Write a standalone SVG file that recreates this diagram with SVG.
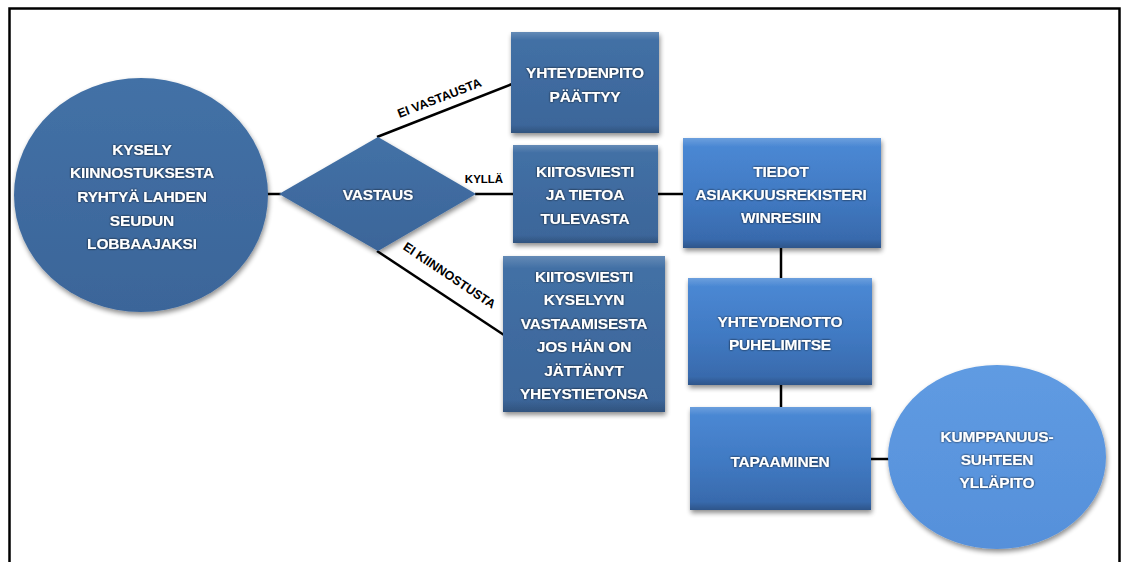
<svg xmlns="http://www.w3.org/2000/svg" width="1123" height="562" viewBox="0 0 1123 562">
  <defs>
    <linearGradient id="gDark" x1="0" y1="0" x2="0" y2="1">
      <stop offset="0" stop-color="#4371A6"/>
      <stop offset="1" stop-color="#3B6599"/>
    </linearGradient>
    <linearGradient id="gBright" x1="0" y1="0" x2="0" y2="1">
      <stop offset="0" stop-color="#4C8AD6"/>
      <stop offset="0.55" stop-color="#4079C2"/>
      <stop offset="1" stop-color="#3767A8"/>
    </linearGradient>
    <linearGradient id="gLight" x1="0" y1="0" x2="0" y2="1">
      <stop offset="0" stop-color="#5F9BE2"/>
      <stop offset="1" stop-color="#5690DA"/>
    </linearGradient>
    <linearGradient id="bevel" x1="0" y1="0" x2="0" y2="1">
      <stop offset="0" stop-color="#ffffff" stop-opacity="0.18"/>
      <stop offset="0.08" stop-color="#ffffff" stop-opacity="0"/>
      <stop offset="0.92" stop-color="#000000" stop-opacity="0"/>
      <stop offset="1" stop-color="#000000" stop-opacity="0.18"/>
    </linearGradient>
    <filter id="shadow" x="-10%" y="-10%" width="125%" height="130%">
      <feGaussianBlur in="SourceAlpha" stdDeviation="2.5"/>
      <feOffset dx="1" dy="3" result="b"/>
      <feComponentTransfer><feFuncA type="linear" slope="0.45"/></feComponentTransfer>
      <feMerge><feMergeNode/><feMergeNode in="SourceGraphic"/></feMerge>
    </filter>
    <filter id="glow" x="-10%" y="-30%" width="120%" height="160%">
      <feGaussianBlur in="SourceAlpha" stdDeviation="0.8"/>
      <feComponentTransfer><feFuncA type="linear" slope="0.9"/></feComponentTransfer>
      <feMerge><feMergeNode/><feMergeNode in="SourceGraphic"/></feMerge>
    </filter>
  </defs>
  <style>
    .lbl { font-family: "Liberation Sans", Arial, sans-serif; font-weight: bold; font-size: 15.5px; letter-spacing: -0.2px; fill: #ffffff; text-anchor: middle; filter: url(#glow); }
    .edge { font-family: "Liberation Sans", Arial, sans-serif; font-weight: bold; font-size: 12.5px; fill: #000000; text-anchor: middle; }
    .conn { stroke: #000000; stroke-width: 2.5; fill: none; }
    .dark { fill: url(#gDark); filter: url(#shadow); }
    .bright { fill: url(#gBright); filter: url(#shadow); }
    .light { fill: url(#gLight); filter: url(#shadow); }
    .bev { fill: url(#bevel); }
  </style>

  <!-- outer frame -->
  <rect x="9.5" y="8.5" width="1110" height="570" fill="#ffffff" stroke="#000000" stroke-width="2.5"/>

  <!-- connectors -->
  <g id="connectors">
    <line class="conn" x1="266" y1="194" x2="281" y2="194"/>
    <line class="conn" x1="377" y1="137" x2="512" y2="84"/>
    <line class="conn" x1="475" y1="194" x2="514" y2="194"/>
    <line class="conn" x1="377" y1="251" x2="504" y2="335"/>
    <line class="conn" x1="657" y1="194" x2="684" y2="194"/>
    <line class="conn" x1="781" y1="247" x2="781" y2="279"/>
    <line class="conn" x1="781" y1="384" x2="781" y2="408"/>
    <line class="conn" x1="870" y1="459" x2="890" y2="459"/>
    <text class="edge" transform="translate(441,102) rotate(-21.2)">EI VASTAUSTA</text>
    <text class="edge" x="484" y="183" style="font-size:11.5px">KYLLÄ</text>
    <text class="edge" transform="translate(447,279) rotate(33.9)">EI KIINNOSTUSTA</text>
  </g>

  <!-- start: survey -->
  <g id="kysely">
    <ellipse class="dark" cx="141" cy="195" rx="127" ry="117"/>
    <text class="lbl" x="142" y="155">KYSELY</text>
    <text class="lbl" x="142" y="178">KIINNOSTUKSESTA</text>
    <text class="lbl" x="142" y="202">RYHTYÄ LAHDEN</text>
    <text class="lbl" x="142" y="226">SEUDUN</text>
    <text class="lbl" x="142" y="249">LOBBAAJAKSI</text>
  </g>

  <!-- decision -->
  <g id="vastaus">
    <polygon class="dark" points="279,194 378,137 476,194 378,251"/>
    <text class="lbl" x="378" y="200">VASTAUS</text>
  </g>

  <g id="paattyy">
    <rect class="dark" x="511" y="32" width="148" height="101"/>
    <rect class="bev" x="511" y="32" width="148" height="101"/>
    <text class="lbl" x="585" y="78">YHTEYDENPITO</text>
    <text class="lbl" x="585" y="102">PÄÄTTYY</text>
  </g>

  <g id="kiitos-kylla">
    <rect class="dark" x="513" y="145" width="145" height="98"/>
    <rect class="bev" x="513" y="145" width="145" height="98"/>
    <text class="lbl" x="585" y="177">KIITOSVIESTI</text>
    <text class="lbl" x="585" y="200">JA TIETOA</text>
    <text class="lbl" x="585" y="224">TULEVASTA</text>
  </g>

  <g id="kiitos-ei">
    <rect class="dark" x="503" y="256" width="162" height="156"/>
    <rect class="bev" x="503" y="256" width="162" height="156"/>
    <text class="lbl" x="584" y="282">KIITOSVIESTI</text>
    <text class="lbl" x="584" y="305">KYSELYYN</text>
    <text class="lbl" x="584" y="329">VASTAAMISESTA</text>
    <text class="lbl" x="584" y="352">JOS HÄN ON</text>
    <text class="lbl" x="584" y="376">JÄTTÄNYT</text>
    <text class="lbl" x="584" y="399">YHEYSTIETONSA</text>
  </g>

  <g id="tiedot">
    <rect class="bright" x="683" y="138" width="198" height="110"/>
    <rect class="bev" x="683" y="138" width="198" height="110"/>
    <text class="lbl" x="781" y="177">TIEDOT</text>
    <text class="lbl" x="781" y="200">ASIAKKUUSREKISTERI</text>
    <text class="lbl" x="781" y="223">WINRESIIN</text>
  </g>

  <g id="yhteydenotto">
    <rect class="bright" x="688" y="278" width="184" height="107"/>
    <rect class="bev" x="688" y="278" width="184" height="107"/>
    <text class="lbl" x="780" y="327">YHTEYDENOTTO</text>
    <text class="lbl" x="780" y="350">PUHELIMITSE</text>
  </g>

  <g id="tapaaminen">
    <rect class="bright" x="690" y="407" width="181" height="103"/>
    <rect class="bev" x="690" y="407" width="181" height="103"/>
    <text class="lbl" x="780" y="467">TAPAAMINEN</text>
  </g>

  <g id="kumppanuus">
    <ellipse class="light" cx="997" cy="457" rx="109" ry="92"/>
    <text class="lbl" x="997" y="442">KUMPPANUUS-</text>
    <text class="lbl" x="997" y="465">SUHTEEN</text>
    <text class="lbl" x="997" y="488">YLLÄPITO</text>
  </g>
</svg>
